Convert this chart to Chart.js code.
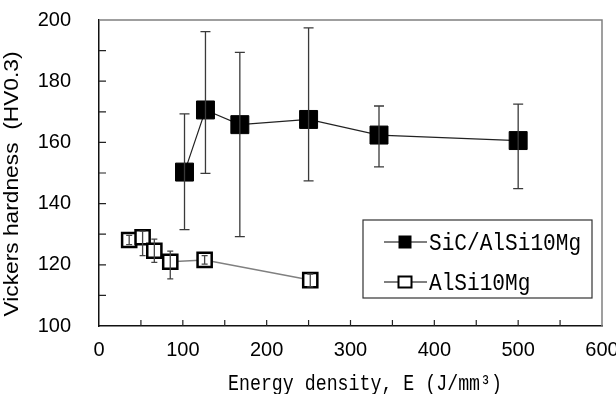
<!DOCTYPE html>
<html>
<head>
<meta charset="utf-8">
<script src="https://cdn.jsdelivr.net/npm/chart.js@4/dist/chart.umd.min.js"></script>
<style>
  html, body { margin: 0; padding: 0; background: #fff; }
  canvas { display: block; }
</style>
</head>
<body>
<canvas id="hardnessChart" width="616" height="394"></canvas>
<script>
// SiC/AlSi10Mg composite
const sicEnergy = [102, 127, 168, 250, 334, 500];
const sicHardness = [150.3, 170.6, 165.8, 167.5, 162.4, 160.6];
const sicUpper = [169.3, 196.2, 189.4, 197.4, 171.9, 172.5];
const sicLower = [131.5, 149.9, 129.2, 147.4, 152.0, 144.9];

// plain AlSi10Mg
const alEnergy = [36, 52, 66, 85, 126, 252];
const alHardness = [128.1, 129.0, 124.6, 121.0, 121.6, 115.0];
const alUpper = [129.6, 131.0, 128.4, 124.5, 123.0, 117.0];
const alLower = [126.6, 123.0, 120.8, 115.4, 120.2, 112.8];

const seriesLabels = ["SiC/AlSi10Mg", "AlSi10Mg"];
const xTitle = "Energy density, E (J/mm\u00b3)";
const yTitle = "Vickers hardness  (HV0.3)";

const toPoints = (xs, ys) => xs.map((x, i) => ({ x: x, y: ys[i] }));

const monoFont = "'Liberation Mono', 'DejaVu Sans Mono', monospace";
const sansFont = "'Liberation Sans', Arial, sans-serif";

// draws text squeezed horizontally so a mono font looks like the narrow gothic of the original
function squeezedText(ctx, text, x, y, font, squeeze, align) {
  ctx.save();
  ctx.font = font;
  ctx.textBaseline = "alphabetic";
  const w = ctx.measureText(text).width * squeeze;
  let left = x;
  if (align === "center") left = x - w / 2;
  ctx.translate(left, y);
  ctx.scale(squeeze, 1);
  ctx.fillText(text, 0, 0);
  ctx.restore();
}

// error bars, drawn after the points so they show inside the hollow squares
const errorBars = {
  id: "errorBars",
  afterDatasetsDraw(chart) {
    const ctx = chart.ctx;
    const yScale = chart.scales.y;
    chart.data.datasets.forEach((ds, i) => {
      const meta = chart.getDatasetMeta(i);
      ctx.save();
      ctx.strokeStyle = ds.errorColor;
      ctx.lineWidth = 1.3;
      meta.data.forEach((pt, j) => {
        const top = yScale.getPixelForValue(ds.errUpper[j]);
        const bot = yScale.getPixelForValue(ds.errLower[j]);
        const cap = ds.capWidth / 2;
        ctx.beginPath();
        ctx.moveTo(pt.x, top);
        ctx.lineTo(pt.x, bot);
        ctx.moveTo(pt.x - cap, top);
        ctx.lineTo(pt.x + cap, top);
        ctx.moveTo(pt.x - cap, bot);
        ctx.lineTo(pt.x + cap, bot);
        ctx.stroke();
      });
      ctx.restore();
    });
  }
};

// frame on top/right, inward tick marks, axis titles
const frameAndTicks = {
  id: "frameAndTicks",
  afterDraw(chart) {
    const ctx = chart.ctx;
    const a = chart.chartArea;
    const xs = chart.scales.x;
    const ys = chart.scales.y;
    ctx.save();
    ctx.strokeStyle = "#808080";
    ctx.lineWidth = 1.5;
    ctx.beginPath();
    ctx.moveTo(a.left, a.top);
    ctx.lineTo(a.right, a.top);
    ctx.lineTo(a.right, a.bottom);
    ctx.stroke();

    ctx.strokeStyle = "#222";
    ctx.lineWidth = 1.2;
    ctx.beginPath();
    for (let v = 50; v < 600; v += 50) {
      const px = xs.getPixelForValue(v);
      ctx.moveTo(px, a.bottom);
      ctx.lineTo(px, a.bottom - 6);
    }
    for (let v = 110; v < 200; v += 10) {
      const py = ys.getPixelForValue(v);
      ctx.moveTo(a.left, py);
      ctx.lineTo(a.left + 7, py);
    }
    ctx.stroke();

    ctx.fillStyle = "#000";
    squeezedText(ctx, xTitle, 365, 390, "22px " + monoFont, 0.83, "center");

    // y title, rotated
    ctx.save();
    ctx.translate(18, 184);
    ctx.rotate(-Math.PI / 2);
    ctx.font = "20px " + sansFont;
    const w = ctx.measureText(yTitle).width;
    const sq = 265 / w;
    ctx.scale(sq, 1);
    ctx.textAlign = "center";
    ctx.fillText(yTitle, 0, 0);
    ctx.restore();
    ctx.restore();
  }
};

// boxed legend with line + marker samples
const boxLegend = {
  id: "boxLegend",
  afterDraw(chart) {
    const ctx = chart.ctx;
    const box = { x: 363, y: 220, w: 229, h: 78 };
    ctx.save();
    ctx.fillStyle = "#fff";
    ctx.fillRect(box.x, box.y, box.w, box.h);
    ctx.strokeStyle = "#333";
    ctx.lineWidth = 1.2;
    ctx.strokeRect(box.x, box.y, box.w, box.h);

    chart.data.datasets.forEach((ds, i) => {
      const cy = box.y + 22 + i * 40;
      ctx.strokeStyle = "#000";
      ctx.lineWidth = 1.2;
      ctx.beginPath();
      ctx.moveTo(box.x + 21, cy);
      ctx.lineTo(box.x + 64, cy);
      ctx.stroke();
      const s = ds.legendSize;
      if (ds.backgroundColor === "#000") {
        ctx.fillStyle = "#000";
        ctx.fillRect(box.x + 42 - s / 2, cy - s / 2, s, s);
      } else {
        ctx.fillStyle = "#fff";
        ctx.fillRect(box.x + 42 - s / 2, cy - s / 2 + 1, s, s - 2);
        ctx.lineWidth = 2;
        ctx.strokeRect(box.x + 42 - s / 2, cy - s / 2 + 1, s, s - 2);
      }
      ctx.fillStyle = "#000";
      squeezedText(ctx, ds.label, box.x + 66, cy + 8, "24px " + monoFont, 0.88, "left");
    });
    ctx.restore();
  }
};

new Chart(document.getElementById("hardnessChart").getContext("2d"), {
  type: "line",
  data: {
    datasets: [
      {
        label: seriesLabels[0],
        data: toPoints(sicEnergy, sicHardness),
        errUpper: sicUpper,
        errLower: sicLower,
        errorColor: "#3a3a3a",
        capWidth: 10,
        legendSize: 13,
        borderColor: "#222",
        borderWidth: 1.2,
        backgroundColor: "#000",
        pointStyle: "rect",
        pointRadius: 12.7,
        pointBorderWidth: 1,
        pointBorderColor: "#000",
        pointBackgroundColor: "#000",
        tension: 0
      },
      {
        label: seriesLabels[1],
        data: toPoints(alEnergy, alHardness),
        errUpper: alUpper,
        errLower: alLower,
        errorColor: "#444",
        capWidth: 6,
        legendSize: 13,
        borderColor: "#808080",
        borderWidth: 1.5,
        backgroundColor: "#fff",
        pointStyle: "rect",
        pointRadius: 10,
        pointBorderWidth: 2.5,
        pointBorderColor: "#000",
        pointBackgroundColor: "#fff",
        tension: 0
      }
    ]
  },
  options: {
    responsive: false,
    devicePixelRatio: 1,
    animation: false,
    layout: { padding: { top: 20, right: 14, left: 0, bottom: 0 } },
    plugins: {
      legend: { display: false },
      tooltip: { enabled: false }
    },
    scales: {
      x: {
        type: "linear",
        min: 0,
        max: 600,
        afterFit: (s) => { s.height = 68; s.paddingLeft = 0; s.paddingRight = 0; },
        grid: { display: false, drawTicks: false },
        border: { display: true, color: "#111", width: 1.5 },
        ticks: {
          stepSize: 100,
          padding: 12,
          color: "#000",
          font: { family: sansFont, size: 20 }
        }
      },
      y: {
        type: "linear",
        min: 100,
        max: 200,
        afterFit: (s) => { s.width = 99; s.paddingTop = 0; s.paddingBottom = 0; },
        grid: { display: false, drawTicks: false },
        border: { display: true, color: "#111", width: 1.5 },
        ticks: {
          stepSize: 20,
          padding: 28,
          color: "#000",
          font: { family: sansFont, size: 20 }
        }
      }
    }
  },
  plugins: [errorBars, frameAndTicks, boxLegend]
});
</script>
</body>
</html>
